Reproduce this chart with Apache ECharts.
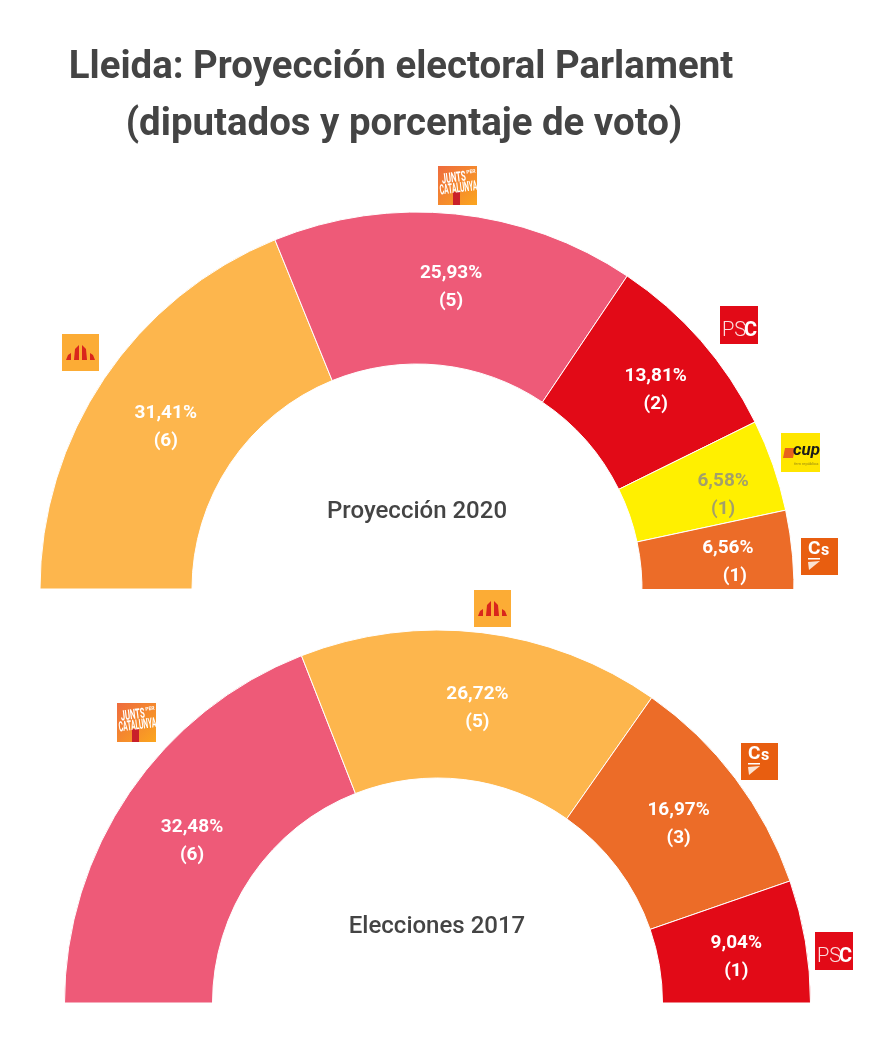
<!DOCTYPE html>
<html>
<head>
<meta charset="utf-8">
<title>Lleida: Proyección electoral Parlament</title>
<style>
html, body { margin: 0; padding: 0; background: #fff; }
#chart { width: 876px; height: 1051px; }
</style>
<script src="https://cdn.jsdelivr.net/npm/echarts@6/dist/echarts.min.js"></script>
</head>
<body>
<div id="chart"></div>
<script>
// datos
var parties2020 = ['ERC', 'JxCat', 'PSC', 'CUP', 'Cs'];
var votes2020 = [31.41, 25.93, 13.81, 6.58, 6.56];
var seats2020 = [6, 5, 2, 1, 1];

var parties2017 = ['JxCat', 'ERC', 'Cs', 'PSC'];
var votes2017 = [32.48, 26.72, 16.97, 9.04];
var seats2017 = [6, 5, 3, 1];

var partyColors = { ERC: '#FDB64D', JxCat: '#EE5A78', PSC: '#E20A17', CUP: '#FFF000', Cs: '#EC6C28' };

var FONT = 'Roboto';
var myChart = echarts.init(document.getElementById('chart'));

function buildData(parties, votes, seats, offsets) {
    var data = [];
    for (var i = 0; i < parties.length; i++) {
        data.push({
            name: parties[i],
            value: votes[i],
            seats: seats[i],
            itemStyle: { color: partyColors[parties[i]] },
            label: {
                color: parties[i] == 'CUP' ? '#A3A06A' : '#fff',
                offset: offsets[i]
            }
        });
    }
    return data;
}

function pieSeries(center, radius, endAngle, data, indentLast) {
    return {
        type: 'pie',
        center: center,
        radius: radius,
        startAngle: 180,
        endAngle: endAngle,
        silent: true,
        avoidLabelOverlap: false,
        itemStyle: { borderColor: '#fff', borderWidth: 1 },
        label: {
            position: 'inside',
            fontFamily: FONT,
            fontSize: 19,
            fontWeight: 'bold',
            lineHeight: 28,
            formatter: function (p) {
                // en el original el "(1)" de Cs va desplazado
                var indent = indentLast && p.dataIndex == data.length - 1 ? '\u00a0\u00a0\u00a0' : '';
                return p.value.toFixed(2).replace('.', ',') + '%\n' + indent + '(' + p.data.seats + ')';
            }
        },
        labelLine: { show: false },
        data: data
    };
}

function logoBox(x, y, w, color, children) {
    return { type: 'group', x: x, y: y, z: 20, children: [
        { type: 'rect', shape: { x: 0, y: 0, width: w, height: w }, style: { fill: color } }
    ].concat(children) };
}

function ercLogo(x, y) {
    var red = '#D9261C';
    return logoBox(x, y, 37, '#FCAC35', [
        { type: 'polygon', shape: { points: [[4, 26], [6, 21], [9, 19], [9, 26]] }, style: { fill: red } },
        { type: 'polygon', shape: { points: [[12, 26], [13, 15], [17, 11], [17, 26]] }, style: { fill: red } },
        { type: 'polygon', shape: { points: [[20, 26], [20, 11], [24, 15], [25, 26]] }, style: { fill: red } },
        { type: 'polygon', shape: { points: [[28, 26], [28, 19], [31, 21], [33, 26]] }, style: { fill: red } }
    ]);
}

function pscLogo(x, y) {
    return logoBox(x, y, 38, '#E20A17', [
        { type: 'text', x: 2, y: 15, style: { text: 'PS', fill: '#fbdcdc', font: '300 20px ' + FONT } },
        { type: 'text', x: 24, y: 15, style: { text: 'C', fill: '#fff', font: 'bold 20px ' + FONT } }
    ]);
}

function csLogo(x, y) {
    return logoBox(x, y, 37, '#E85E10', [
        { type: 'text', x: 7, y: 2, style: { text: 'C', fill: '#fff', font: 'bold 19px ' + FONT } },
        { type: 'text', x: 20, y: 5, style: { text: 's', fill: '#fff', font: 'bold 16px ' + FONT } },
        { type: 'rect', shape: { x: 7, y: 20, width: 12, height: 1.5 }, style: { fill: '#fff' } },
        { type: 'polygon', shape: { points: [[7, 24], [19, 23], [8, 32]] }, style: { fill: '#fbe3d2' } }
    ]);
}

function cupLogo(x, y) {
    return logoBox(x, y, 39, '#FFE600', [
        { type: 'polygon', shape: { points: [[4, 15], [14, 15], [12, 25], [2, 25]] }, style: { fill: '#E8641B' } },
        { type: 'text', x: 12, y: 9, style: { text: 'cup', fill: '#1a1a1a', font: 'italic bold 17px ' + FONT } },
        { type: 'text', x: 13, y: 29, style: { text: 'fem república', fill: '#9a8a10', font: '4px ' + FONT } }
    ]);
}

function juntsLogo(x, y) {
    return { type: 'group', x: x, y: y, z: 20, children: [
        { type: 'rect', shape: { x: 0, y: 0, width: 39, height: 39 }, style: {
            fill: new echarts.graphic.LinearGradient(0, 0, 1, 1, [
                { offset: 0, color: '#EE6B3E' }, { offset: 1, color: '#FBA61E' }
            ])
        } },
        { type: 'rect', shape: { x: 15, y: 26, width: 7, height: 13 }, style: { fill: '#C9202A' } },
        { type: 'text', x: 3, y: 7, rotation: 0.12, scaleX: 0.55, style: { text: 'JUNTS', fill: '#fff', font: 'bold 14px ' + FONT } },
        { type: 'text', x: 28, y: 4, rotation: 0.12, style: { text: 'PER', fill: '#fff', font: 'bold 5px ' + FONT } },
        { type: 'text', x: 1, y: 18, rotation: 0.12, scaleX: 0.48, style: { text: 'CATALUNYA', fill: '#fff', font: 'bold 14px ' + FONT } }
    ] };
}

function centerText(x, y, text) {
    return { type: 'text', x: x, y: y, z: 20, style: {
        text: text, fill: '#444', font: '500 24px ' + FONT, textAlign: 'center', textVerticalAlign: 'middle'
    } };
}

function titleLine(text, x, y) {
    return {
        text: text,
        left: x,
        top: y,
        textAlign: 'center',
        textStyle: { fontFamily: FONT, fontSize: 38.4, fontWeight: 'bold', color: '#444' }
    };
}

var option = {
    backgroundColor: '#fff',
    animation: false,
    title: [
        titleLine('Lleida: Proyección electoral Parlament', 396, 44),
        titleLine('(diputados y porcentaje de voto)', 399, 101)
    ],
    series: [
        pieSeries([417, 589], [225, 377], -2.1,
            buildData(parties2020, votes2020, seats2020, [[1, 8], [3, 1], [10, 2], [19, 6], [8, 0]]), true),
        pieSeries([437.5, 1003], [225, 373], 0,
            buildData(parties2017, votes2017, seats2017, [[4, 8], [4, 5], [0, 3], [1, 4]]), false)
    ],
    graphic: [
        // la ultima porcion del grafico superior queda recortada por la base
        { type: 'rect', z: 10, shape: { x: 630, y: 589, width: 175, height: 14 }, style: { fill: '#fff' } },
        centerText(417, 512, 'Proyección 2020'),
        centerText(437, 927, 'Elecciones 2017'),
        juntsLogo(438, 166),
        ercLogo(62, 334),
        pscLogo(720, 306),
        cupLogo(781, 433),
        csLogo(801, 538),
        ercLogo(474, 590),
        juntsLogo(117, 703),
        csLogo(741, 743),
        pscLogo(815, 932)
    ]
};
myChart.setOption(option);
</script>
</body>
</html>
